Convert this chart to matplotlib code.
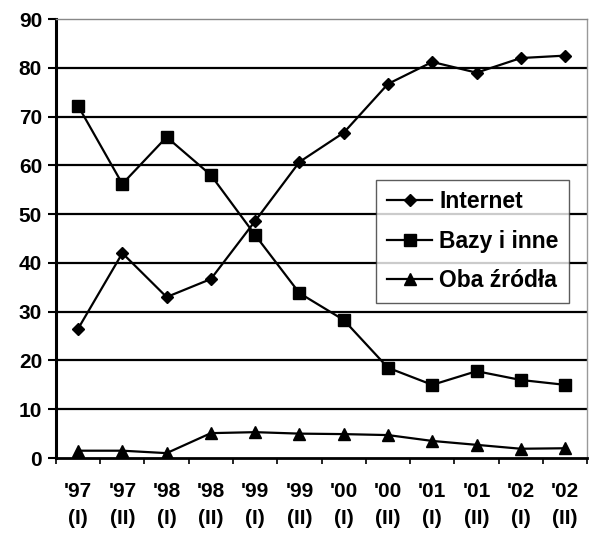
import matplotlib
matplotlib.use("Agg")
import matplotlib.pyplot as plt
import numpy as np

plt.rcParams['font.family'] = ['Liberation Sans', 'DejaVu Sans']

categories = ["'97\n(I)", "'97\n(II)", "'98\n(I)", "'98\n(II)", "'99\n(I)", "'99\n(II)",
              "'00\n(I)", "'00\n(II)", "'01\n(I)", "'01\n(II)", "'02\n(I)", "'02\n(II)"]
internet = [26.5, 42, 33, 36.7, 48.6, 60.7, 66.7, 76.7, 81.2, 79, 82, 82.5]
bazy = [72.2, 56.2, 65.8, 58, 45.7, 33.8, 28.3, 18.5, 15, 17.8, 16, 15]
oba = [1.5, 1.5, 1.0, 5.1, 5.3, 5.0, 4.9, 4.7, 3.5, 2.7, 1.9, 2.0]
yticks = [0, 10, 20, 30, 40, 50, 60, 70, 80, 90]

fig = plt.figure(figsize=(5.95, 5.36), dpi=100)
ax = fig.add_axes([0.094, 0.1455, 0.893, 0.819])

x = np.arange(len(categories))
ax.plot(x, internet, '-D', color='black', lw=1.6, ms=6.5, label='Internet')
ax.plot(x, bazy, '-s', color='black', lw=1.6, ms=8.5, label='Bazy i inne')
ax.plot(x, oba, '-^', color='black', lw=1.6, ms=8, label='Oba źródła')

ax.set_ylim(0, 90)
ax.set_xlim(-0.5, len(categories) - 0.5)
ax.set_yticks(yticks)
for yv in yticks[1:-1]:
    ax.axhline(yv, color='black', lw=1.6, zorder=0)

ax.set_xticks(x)
ax.set_xticklabels(categories, fontsize=15, fontweight='bold', linespacing=1.55)
ax.set_xticks(np.arange(-0.5, len(categories), 1), minor=True)
ax.tick_params(axis='x', which='major', length=0, pad=17)
ax.tick_params(axis='x', which='minor', length=4, width=1.2, direction='out')
ax.tick_params(axis='y', length=6, width=1.5, labelsize=15, pad=4)
for lab in ax.get_yticklabels():
    lab.set_fontweight('bold')

ax.spines['left'].set_linewidth(2.2)
ax.spines['bottom'].set_linewidth(2.0)
ax.spines['top'].set_color('#888888')
ax.spines['top'].set_linestyle((0, (1, 1)))
ax.spines['top'].set_linewidth(1.0)
ax.spines['right'].set_color('#999999')
ax.spines['right'].set_linewidth(1.0)

leg = ax.legend(loc='upper left', bbox_to_anchor=(0.603, 0.633),
                prop={'weight': 'bold', 'size': 16.5}, frameon=True, fancybox=False,
                edgecolor='#333333', handlelength=2.0, handletextpad=0.3,
                borderpad=0.45, labelspacing=0.72, borderaxespad=0)
leg.get_frame().set_linewidth(1.0)

fig.savefig('out.png', dpi=100, facecolor='white')
